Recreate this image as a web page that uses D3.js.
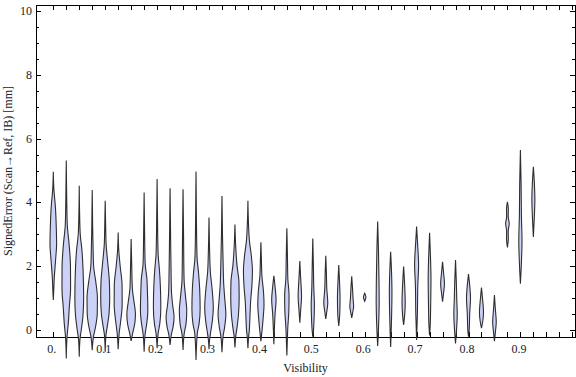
<html><head>
<script src="https://d3js.org/d3.v7.min.js"></script>
<style>
  body { margin: 0; background: #fff; }
  text { font-family: "Liberation Serif", "Times New Roman", serif; fill: #222; }
</style>
</head>
<body>
<svg id="chart" width="576" height="377"></svg>
<script>
  // visibility bins, one violin each
  const visibility = [0, 0.025, 0.05, 0.075, 0.1, 0.125, 0.15, 0.175, 0.2, 0.225,
    0.25, 0.275, 0.3, 0.325, 0.35, 0.375, 0.4, 0.425, 0.45, 0.475,
    0.5, 0.525, 0.55, 0.575, 0.6, 0.625, 0.65, 0.675, 0.7, 0.725,
    0.75, 0.775, 0.8, 0.825, 0.85, 0.875, 0.9, 0.925];

  // violin outlines: [signed error, relative density], top to bottom
  const profiles = [
    [[4.96,0],[4.4,0.6],[3.9,2.0],[3.2,3.0],[2.7,3.3],[2.2,2.3],[1.6,0.9],[1.2,0.4],[0.94,0]],
    [[5.31,0],[4.2,0.4],[3.3,1.0],[2.7,2.8],[2.0,4.2],[1.3,4.3],[0.7,3.0],[0.2,2.0],[-0.2,0.8],[-0.5,0.3],[-0.89,0]],
    [[4.52,0],[3.6,0.4],[3.0,1.0],[2.5,2.7],[1.9,3.8],[1.0,4.4],[0.4,3.6],[0.0,2.0],[-0.3,0.7],[-0.84,0]],
    [[4.39,0],[3.3,0.4],[2.5,0.9],[2.0,1.4],[1.5,3.6],[1.0,5.2],[0.5,5.0],[0.05,3.0],[-0.2,1.3],[-0.63,0]],
    [[4.05,0],[3.2,0.5],[2.7,0.9],[2.1,2.6],[1.5,4.2],[1.0,4.5],[0.5,3.8],[0.1,2.0],[-0.15,0.8],[-0.68,0]],
    [[3.06,0],[2.5,0.6],[2.0,2.0],[1.4,3.9],[0.8,4.0],[0.25,2.4],[-0.1,1.0],[-0.6,0]],
    [[2.85,0],[2.0,0.6],[1.3,1.2],[0.9,2.8],[0.5,4.3],[0.2,3.6],[-0.1,1.5],[-0.34,0]],
    [[4.31,0],[3.0,0.5],[2.1,1.0],[1.6,2.8],[1.2,3.3],[0.6,3.7],[0.2,2.6],[-0.1,1.1],[-0.68,0]],
    [[4.73,0],[3.5,0.4],[2.4,1.0],[1.9,2.3],[1.35,3.3],[0.7,3.7],[0.2,2.7],[-0.1,1.1],[-0.57,0]],
    [[4.44,0],[3.0,0.5],[1.8,1.0],[1.2,1.4],[0.8,2.5],[0.4,4.0],[0.1,3.0],[-0.15,1.2],[-0.47,0]],
    [[4.41,0],[3.0,0.5],[1.6,1.0],[1.1,2.3],[0.6,3.7],[0.2,3.0],[-0.1,1.2],[-0.63,0]],
    [[4.97,0],[3.5,0.4],[2.3,1.0],[1.8,2.5],[1.25,3.7],[0.65,4.1],[0.2,3.1],[-0.1,1.3],[-0.94,0]],
    [[3.53,0],[2.5,0.6],[1.8,1.4],[1.25,3.2],[0.7,4.3],[0.3,3.4],[0.0,2.0],[-0.25,0.8],[-0.6,0]],
    [[4.2,0],[3.0,0.5],[2.0,1.2],[1.4,1.8],[0.9,3.0],[0.5,3.9],[0.1,2.7],[-0.2,1.1],[-0.7,0]],
    [[3.31,0],[2.6,0.8],[2.04,2.0],[1.5,4.0],[1.0,4.2],[0.47,3.5],[0.06,2.0],[-0.2,0.8],[-0.55,0]],
    [[4.05,0],[3.3,0.6],[2.8,1.5],[2.3,3.5],[1.85,4.5],[1.4,4.0],[0.9,2.7],[0.4,2.0],[0.0,1.4],[-0.25,0.6],[-0.57,0]],
    [[2.75,0],[2.2,0.5],[1.7,1.0],[1.2,2.6],[0.8,3.1],[0.35,2.2],[0.0,1.2],[-0.35,0]],
    [[1.70,0],[1.35,1.2],[0.95,2.2],[0.5,1.2],[0.1,0.6],[-0.45,0]],
    [[3.19,0],[2.3,0.6],[1.6,1.0],[1.1,2.2],[0.6,2.0],[0.1,1.0],[-0.4,0.4],[-0.8,0]],
    [[2.16,0],[1.7,0.7],[1.05,1.7],[0.6,0.8],[0.23,0]],
    [[2.87,0],[2.0,0.6],[1.3,1.0],[0.8,1.6],[0.3,1.2],[0.0,0.7],[-0.21,0]],
    [[2.33,0],[1.8,0.6],[1.3,1.0],[0.85,2.0],[0.55,0.9],[0.35,0]],
    [[2.04,0],[1.5,0.8],[1.0,1.3],[0.5,1.0],[0.13,0]],
    [[1.68,0],[1.3,0.8],[0.95,1.4],[0.75,1.9],[0.55,1.0],[0.38,0]],
    [[1.15,0],[1.03,1.2],[0.9,0]],
    [[3.40,0],[2.5,0.8],[1.6,1.3],[0.9,1.5],[0.2,1.0],[-0.5,0]],
    [[2.45,0],[1.8,0.9],[1.15,1.3],[0.5,1.0],[-0.53,0]],
    [[1.99,0],[1.5,0.9],[0.85,1.6],[0.45,1.0],[0.16,0]],
    [[3.24,0],[2.7,1.0],[2.05,2.0],[1.4,1.2],[0.5,0.8],[-0.31,0]],
    [[3.05,0],[2.3,0.9],[1.6,1.4],[0.8,1.1],[0.2,0.7],[-0.17,0]],
    [[2.14,0],[1.8,1.0],[1.45,1.9],[1.15,1.0],[0.89,0]],
    [[2.19,0],[1.5,0.8],[0.9,1.3],[0.5,1.7],[0.0,1.0],[-0.42,0]],
    [[1.75,0],[1.4,1.2],[1.0,2.0],[0.5,1.2],[0.0,0.7],[-0.21,0]],
    [[1.33,0],[1.0,1.0],[0.55,2.0],[0.25,1.2],[0.06,0]],
    [[1.10,0],[0.7,0.8],[0.25,1.8],[-0.05,1.0],[-0.35,0]],
    [[4.02,0],[3.8,0.9],[3.55,0.8],[3.34,1.8],[3.1,0.8],[2.85,0.9],[2.59,0]],
    [[5.64,0],[4.6,0.7],[3.6,1.0],[2.8,1.6],[2.1,1.0],[1.45,0]],
    [[5.12,0],[4.6,1.0],[4.1,1.5],[3.5,0.9],[2.92,0]]
  ];

  const yTicks = [0, 2, 4, 6, 8, 10];
  const xTickLabels = [0, 0.1, 0.2, 0.3, 0.4, 0.5, 0.6, 0.7, 0.8, 0.9];

  const svg = d3.select("svg#chart");
  const frame = {"left": 36, "top": 5, "right": 575, "bottom": 337};

  // scales
  const xScale = d3.scaleLinear().domain([0, 0.9]).range([53.3, 520.4]);
  const yScale = d3.scaleLinear().domain([0, 10]).range([330, 11]);
  const wScale = d3.scaleLinear().domain([0, 1]).range([0, 1]);

  // frame ticks (all point inward, mirrored on the opposite side)
  const ticks = svg.append("g").attr("stroke", "#000").attr("stroke-width", 1);

  const xTickVals = d3.range(0, 41).map(i => i * 0.025);
  xTickVals.forEach(v => {
    const x = Math.round(xScale(v)) + 0.5;
    ticks.append("line").attr("x1", x).attr("x2", x).attr("y1", frame.bottom).attr("y2", frame.bottom - 5);
    ticks.append("line").attr("x1", x).attr("x2", x).attr("y1", frame.top).attr("y2", frame.top + 5);
  });

  const yTickVals = d3.range(0, 21).map(i => i * 0.5);
  yTickVals.forEach(v => {
    const y = Math.round(yScale(v)) + 0.5;
    const len = (v % 2 === 0) ? 5 : 3;
    ticks.append("line").attr("x1", frame.left).attr("x2", frame.left + len).attr("y1", y).attr("y2", y);
    ticks.append("line").attr("x1", frame.right).attr("x2", frame.right - len).attr("y1", y).attr("y2", y);
  });

  // frame box
  svg.append("rect")
     .attr("x", frame.left + 0.5).attr("y", frame.top + 0.5)
     .attr("width", frame.right - frame.left).attr("height", frame.bottom - frame.top)
     .attr("fill", "none").attr("stroke", "#000").attr("stroke-width", 1);

  // tick labels
  xTickLabels.forEach(v => {
    svg.append("text")
       .attr("x", xScale(v) - 1.5).attr("y", 353)
       .attr("text-anchor", "middle").attr("font-size", 12)
       .text(v === 0 ? "0." : d3.format(".1f")(v));
  });

  yTicks.forEach(v => {
    svg.append("text")
       .attr("x", 32).attr("y", yScale(v) + 4)
       .attr("text-anchor", "end").attr("font-size", 12)
       .text(v);
  });

  // axis titles
  svg.append("text")
     .attr("x", (frame.left + frame.right) / 2).attr("y", 372)
     .attr("text-anchor", "middle").attr("font-size", 12)
     .text("Visibility");

  svg.append("text")
     .attr("transform", "translate(12," + ((frame.top + frame.bottom) / 2) + ") rotate(-90)")
     .attr("text-anchor", "middle").attr("font-size", 12)
     .text("SignedError (Scan\u2192Ref, IB) [mm]");

  // violins
  const violins = svg.append("g");
  profiles.forEach((prof, i) => {
    const cx = xScale(visibility[i]);
    const area = d3.area()
      .y(d => yScale(d[0]))
      .x0(d => cx - wScale(d[1]))
      .x1(d => cx + wScale(d[1]))
      .curve(d3.curveMonotoneY);
    violins.append("path")
      .attr("d", area(prof))
      .attr("fill", "#ccd2f7")
      .attr("stroke", "#2e2e2e")
      .attr("stroke-width", 1.1);
  });
</script>
</body>
</html>
